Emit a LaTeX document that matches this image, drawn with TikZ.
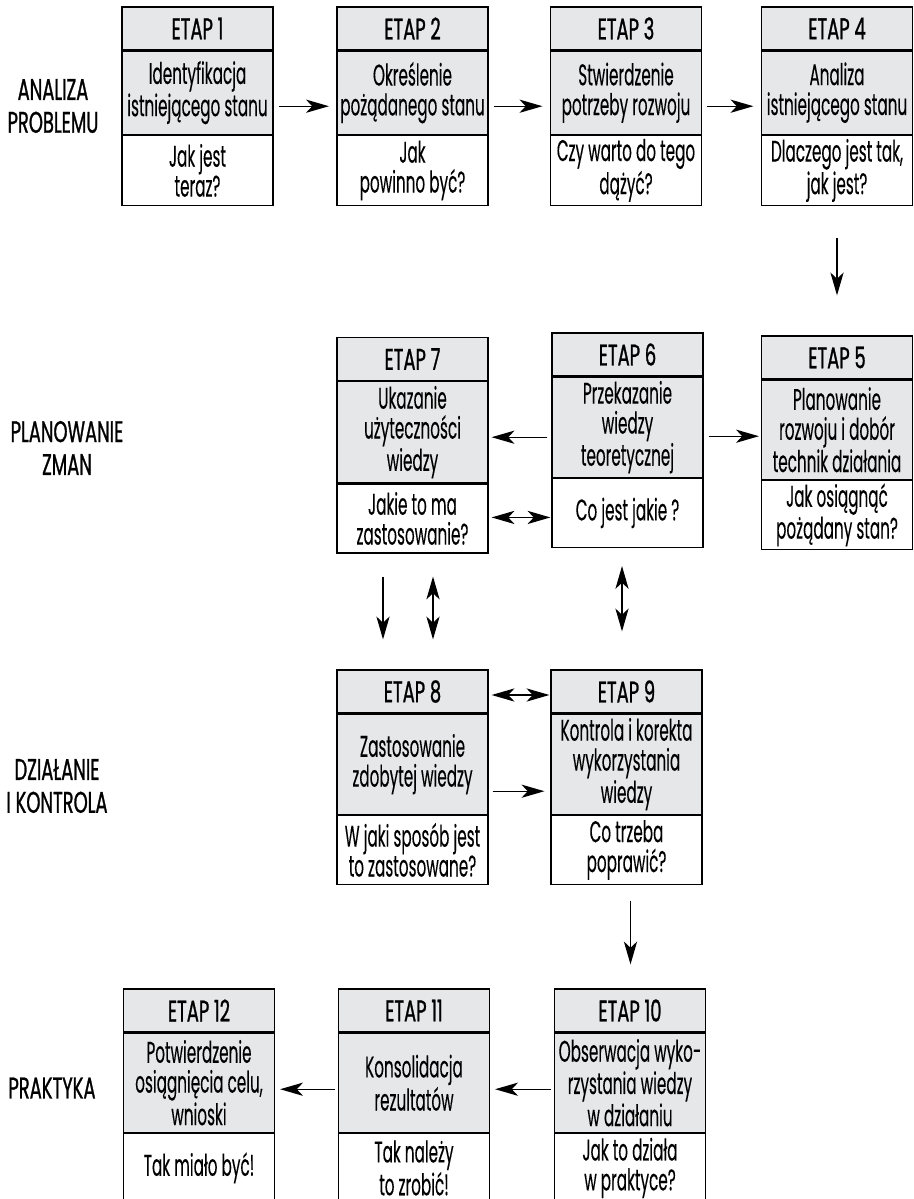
\documentclass[tikz,border=0pt]{standalone}
\usepackage{fontspec}
\setmainfont[FakeStretch=0.51,FakeBold=0.2]{Poppins}
\newfontfamily\phasefont[FakeStretch=0.6,FakeBold=0.9]{Poppins}
\usetikzlibrary{positioning,arrows.meta}
\definecolor{etapgray}{RGB}{230,231,232}
\tikzset{
  hdr/.style={rectangle,draw,fill=etapgray,line width=0.7pt,minimum width=3.02cm,minimum height=0.86cm,inner sep=0pt,font=\phasefont\fontsize{17}{17}\selectfont},
  mid/.style={hdr,align=center,font=\fontsize{17}{17}\selectfont},
  ask/.style={mid,fill=white,minimum height=1.38cm},
  arr/.style={-{Stealth[length=13pt,width=7.5pt,inset=3.5pt]},line width=0.8pt},
  darr/.style={{Stealth[length=13pt,width=7.5pt,inset=3.5pt]}-{Stealth[length=13pt,width=7.5pt,inset=3.5pt]},line width=0.8pt},
  phase/.style={align=center,font=\phasefont\fontsize{17}{18.7}\selectfont}
}

\begin{document}
\begin{tikzpicture}[x=0.02cm,y=-0.02cm]
\useasboundingbox (0,0) rectangle (913,1199);

% phases
\node[phase] (p1) at (53,106) {ANALIZA\\PROBLEMU};
\node[phase] (p2) at (67,448) {PLANOWANIE\\ZMAN};
\node[phase] (p3) at (57,786) {DZIAŁANIE\\I KONTROLA};
\node[phase] (p4) at (52,1088) {PRAKTYKA};

% etap 1-4
\node[hdr] (e1) at (197.5,28.5) {ETAP 1};
\node[mid,minimum height=1.66cm,below=0pt of e1] (m1) {Identyfikacja\\istniejącego stanu};
\node[ask,minimum height=1.4cm,below=0pt of m1] (q1) {Jak jest\\teraz?};
\node[hdr] (e2) at (412.5,28.5) {ETAP 2};
\node[mid,minimum height=1.66cm,below=0pt of e2] (m2) {Określenie\\pożądanego stanu};
\node[ask,minimum height=1.4cm,below=0pt of m2] (q2) {Jak\\powinno być?};
\node[hdr] (e3) at (626,28.5) {ETAP 3};
\node[mid,minimum height=1.66cm,below=0pt of e3] (m3) {Stwierdzenie\\potrzeby rozwoju};
\node[ask,minimum height=1.4cm,below=0pt of m3] (q3) {Czy warto do tego\\dążyć?};
\node[hdr] (e4) at (837,28.5) {ETAP 4};
\node[mid,minimum height=1.66cm,below=0pt of e4] (m4) {Analiza\\istniejącego stanu};
\node[ask,minimum height=1.4cm,below=0pt of m4] (q4) {Dlaczego jest tak,\\jak jest?};

% etap 5-7
\node[hdr] (e5) at (837,357.5) {ETAP 5};
\node[mid,minimum height=1.98cm,below=0pt of e5] (m5) {Planowanie\\rozwoju i dobór\\technik działania};
\node[ask,below=0pt of m5] (q5) {Jak osiągnąć\\pożądany stan?};
\node[hdr] (e6) at (627.5,354.5) {ETAP 6};
\node[mid,minimum height=2cm,below=0pt of e6] (m6) {Przekazanie\\wiedzy\\teoretycznej};
\node[ask,below=0pt of m6] (q6) {Co jest jakie ?};
\node[hdr] (e7) at (412.5,359) {ETAP 7};
\node[mid,minimum height=2.02cm,below=0pt of e7] (m7) {Ukazanie\\użyteczności\\wiedzy};
\node[ask,below=0pt of m7] (q7) {Jakie to ma\\zastosowanie?};

% etap 8-9
\node[hdr] (e8) at (412.5,691.5) {ETAP 8};
\node[mid,minimum height=2cm,below=0pt of e8] (m8) {Zastosowanie\\zdobytej wiedzy};
\node[ask,below=0pt of m8] (q8) {W jaki sposób jest\\to zastosowane?};
\node[hdr] (e9) at (626.5,691.5) {ETAP 9};
\node[mid,minimum height=2cm,below=0pt of e9] (m9) {Kontrola i korekta\\wykorzystania\\wiedzy};
\node[ask,below=0pt of m9] (q9) {Co trzeba\\poprawić?};

% etap 10-12
\node[hdr] (e10) at (630,1010.5) {ETAP 10};
\node[mid,minimum height=1.98cm,below=0pt of e10] (m10) {Obserwacja wyko-\\rzystania wiedzy\\w działaniu};
\node[ask,below=0pt of m10] (q10) {Jak to działa\\w praktyce?};
\node[hdr] (e11) at (414,1010.5) {ETAP 11};
\node[mid,minimum height=1.98cm,below=0pt of e11] (m11) {Konsolidacja\\rezultatów};
\node[ask,below=0pt of m11] (q11) {Tak należy\\to zrobić!};
\node[hdr] (e12) at (199,1010.5) {ETAP 12};
\node[mid,minimum height=1.98cm,below=0pt of e12] (m12) {Potwierdzenie\\osiągnięcia celu,\\wnioski};
\node[ask,below=0pt of m12] (q12) {Tak miało być!};

% connectors
\draw[arr,shorten <=0.1cm,shorten >=0.15cm] ([yshift=-0.27cm]m1.east) -- ([yshift=-0.27cm]m1.east -| m2.west);
\draw[arr,shorten <=0.1cm,shorten >=0.15cm] ([yshift=-0.27cm]m2.east) -- ([yshift=-0.27cm]m2.east -| m3.west);
\draw[arr,shorten <=0.1cm,shorten >=0.15cm] ([yshift=-0.27cm]m3.east) -- ([yshift=-0.27cm]m3.east -| m4.west);
\draw[arr,shorten <=0.64cm,shorten >=0.8cm] (q4.south) -- (q4.south |- e5.north);
\draw[arr,shorten <=0.08cm,shorten >=0.06cm] ([yshift=-0.2cm]m6.west) -- ([yshift=-0.2cm]m6.west -| m7.east);
\draw[arr,shorten <=0.1cm,shorten >=0.04cm] ([yshift=-0.18cm]m6.east) -- ([yshift=-0.18cm]m6.east -| m5.west);
\draw[darr,shorten <=0.02cm,shorten >=0.06cm] ([yshift=-0.09cm]q6.west) -- ([yshift=-0.09cm]q6.west -| q7.east);
\draw[arr,shorten <=0.46cm,shorten >=0.6cm] ([xshift=-0.59cm]q7.south) -- ([xshift=-0.59cm]q7.south |- e8.north);
\draw[darr,shorten <=0.46cm,shorten >=0.6cm] ([xshift=0.41cm]q7.south) -- ([xshift=0.41cm]q7.south |- e8.north);
\draw[darr,shorten <=0.36cm,shorten >=0.76cm] ([xshift=-0.11cm]q6.south) -- ([xshift=-0.11cm]q6.south |- e9.north);
\draw[darr,shorten <=0.06cm,shorten >=0.02cm] ([yshift=-0.07cm]e8.east) -- ([yshift=-0.07cm]e8.east -| e9.west);
\draw[arr,shorten <=0.08cm,shorten >=0.12cm] ([yshift=-0.54cm]m8.east) -- ([yshift=-0.54cm]m8.east -| m9.west);
\draw[arr,shorten <=0.32cm,shorten >=0.48cm] ([xshift=0.08cm]q9.south) -- ([xshift=0.08cm]q9.south |- e10.north);
\draw[arr,shorten <=0.06cm,shorten >=0.1cm] ([yshift=-0.13cm]m10.west) -- ([yshift=-0.13cm]m10.west -| m11.east);
\draw[arr,shorten <=0.06cm,shorten >=0.1cm] ([yshift=-0.13cm]m11.west) -- ([yshift=-0.13cm]m11.west -| m12.east);
\end{tikzpicture}
\end{document}
